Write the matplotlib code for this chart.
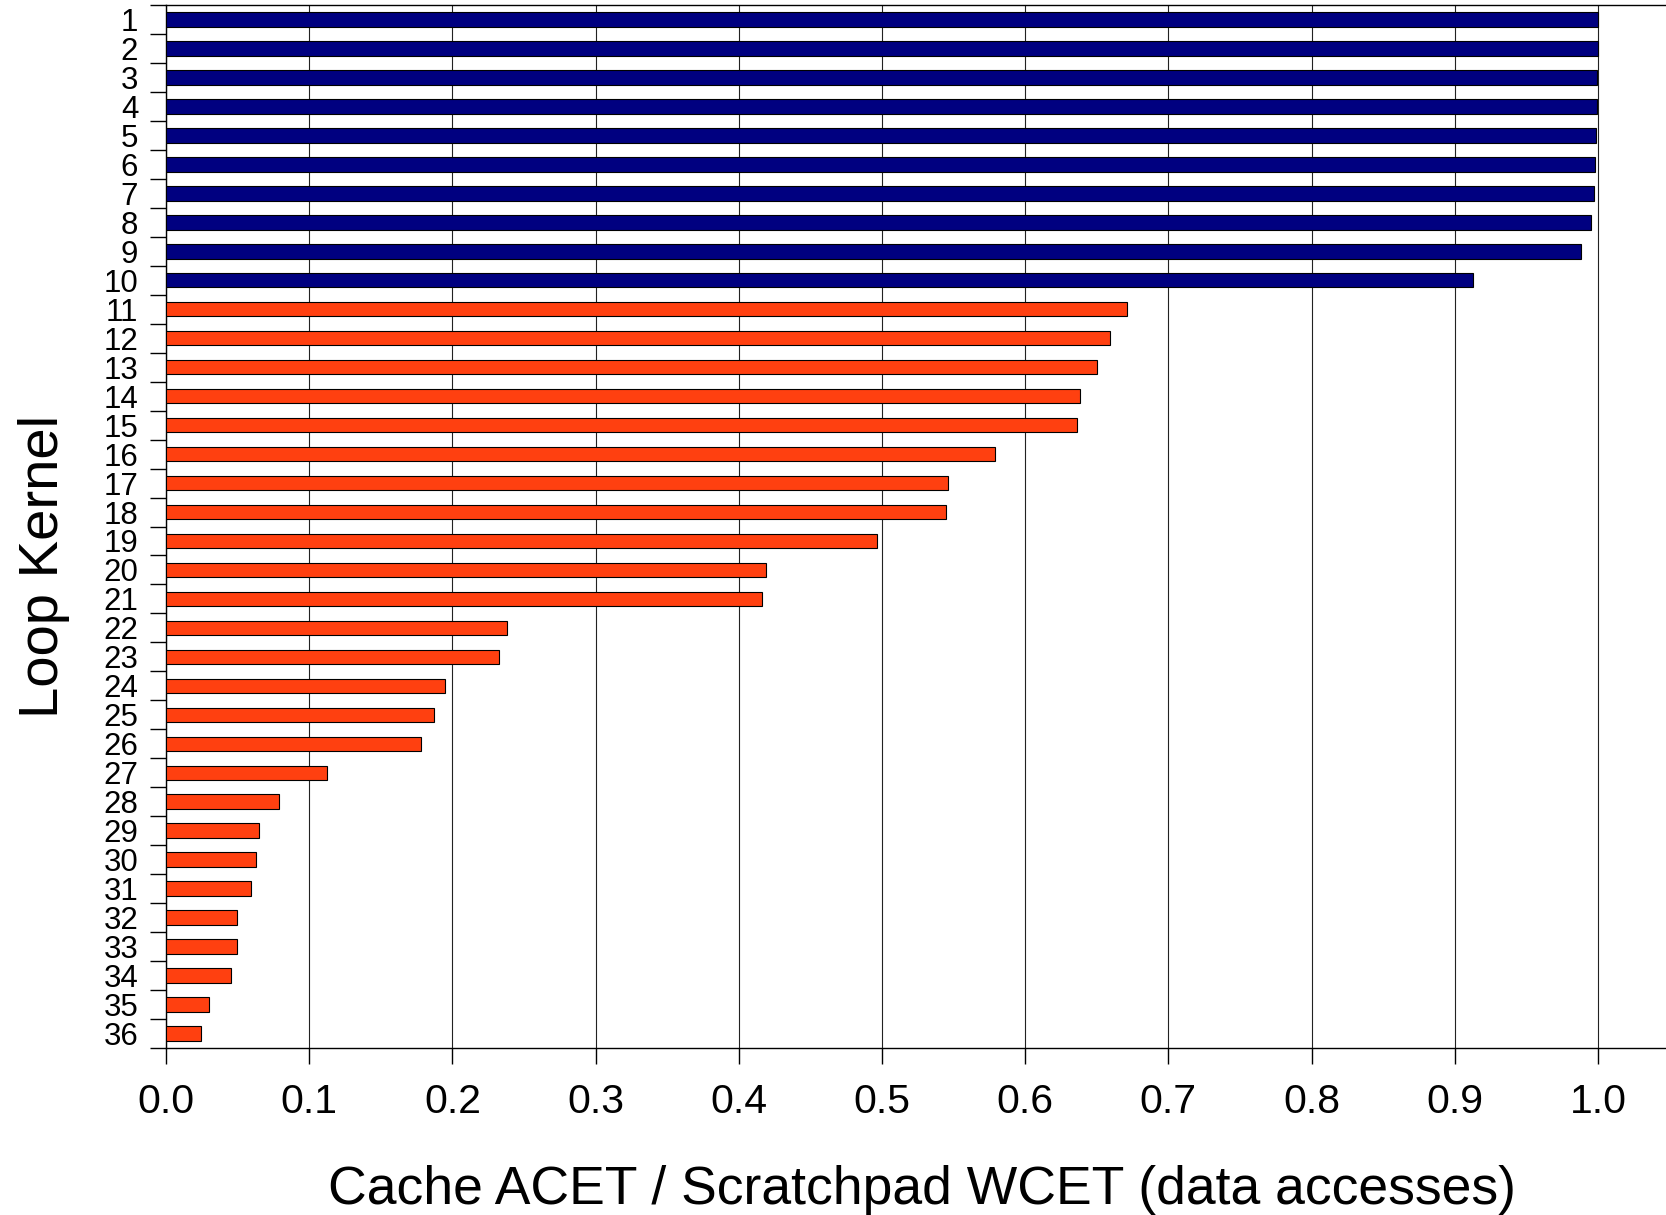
import matplotlib
matplotlib.use("Agg")
import matplotlib.pyplot as plt
import numpy as np

plt.rcParams['font.family'] = ['Liberation Sans', 'DejaVu Sans']

kernels = [str(i) for i in range(1, 37)]
ratio = [1.000, 0.9998, 0.9993, 0.999, 0.9984, 0.9977, 0.997, 0.9951, 0.9884, 0.9125,
         0.671, 0.6593, 0.650, 0.6383, 0.6363, 0.579, 0.5462, 0.5447, 0.4967, 0.4193,
         0.4163, 0.238, 0.2323, 0.195, 0.187, 0.1778, 0.1126, 0.0787, 0.0648, 0.0627,
         0.0597, 0.0493, 0.0493, 0.0453, 0.0303, 0.0242]
n_blue = 10

colors = ['#000080'] * n_blue + ['#ff4010'] * (len(ratio) - n_blue)

fig = plt.figure(figsize=(16.66, 12.15), dpi=100)
ax = fig.add_axes([166 / 1666, 1 - 1048 / 1215, 1500 / 1666, 1043 / 1215])

y = np.arange(len(ratio))
ax.barh(y, ratio, height=0.5, color=colors, edgecolor='black', linewidth=0.8, zorder=3)

ax.set_ylim(len(ratio) - 0.5, -0.5)
ax.set_xlim(0, 1500 / 1432)

# labels sit at the bar centres, tick marks at the band boundaries
ax.set_yticks(np.arange(len(ratio) + 1) - 0.5)
ax.set_yticklabels([])
ax.set_yticks(y, minor=True)
ax.set_yticklabels(kernels, minor=True, fontsize=22.5)
ax.tick_params(axis='y', which='major', length=11.5, width=1.0, direction='out')
ax.tick_params(axis='y', which='minor', length=0, pad=20)

xt = np.round(np.arange(0, 1.01, 0.1), 1)
ax.set_xticks(xt)
ax.set_xticklabels([f"{v:.1f}" for v in xt], fontsize=29.5)
ax.tick_params(axis='x', length=11.5, width=1.0, direction='out', pad=14)

ax.grid(axis='x', color='#222222', linewidth=0.8, zorder=0)
ax.set_axisbelow(True)

for s in ['top', 'bottom', 'left']:
    ax.spines[s].set_linewidth(1.0)
ax.spines['right'].set_visible(False)

ax.set_xlabel("Cache ACET / Scratchpad WCET (data accesses)", fontsize=38.5)
ax.xaxis.set_label_coords(0.504, -0.112)
ax.set_ylabel("Loop Kernel", fontsize=40.5)
ax.yaxis.set_label_coords(-0.064, 0.462)

fig.savefig("out.png", dpi=100)
